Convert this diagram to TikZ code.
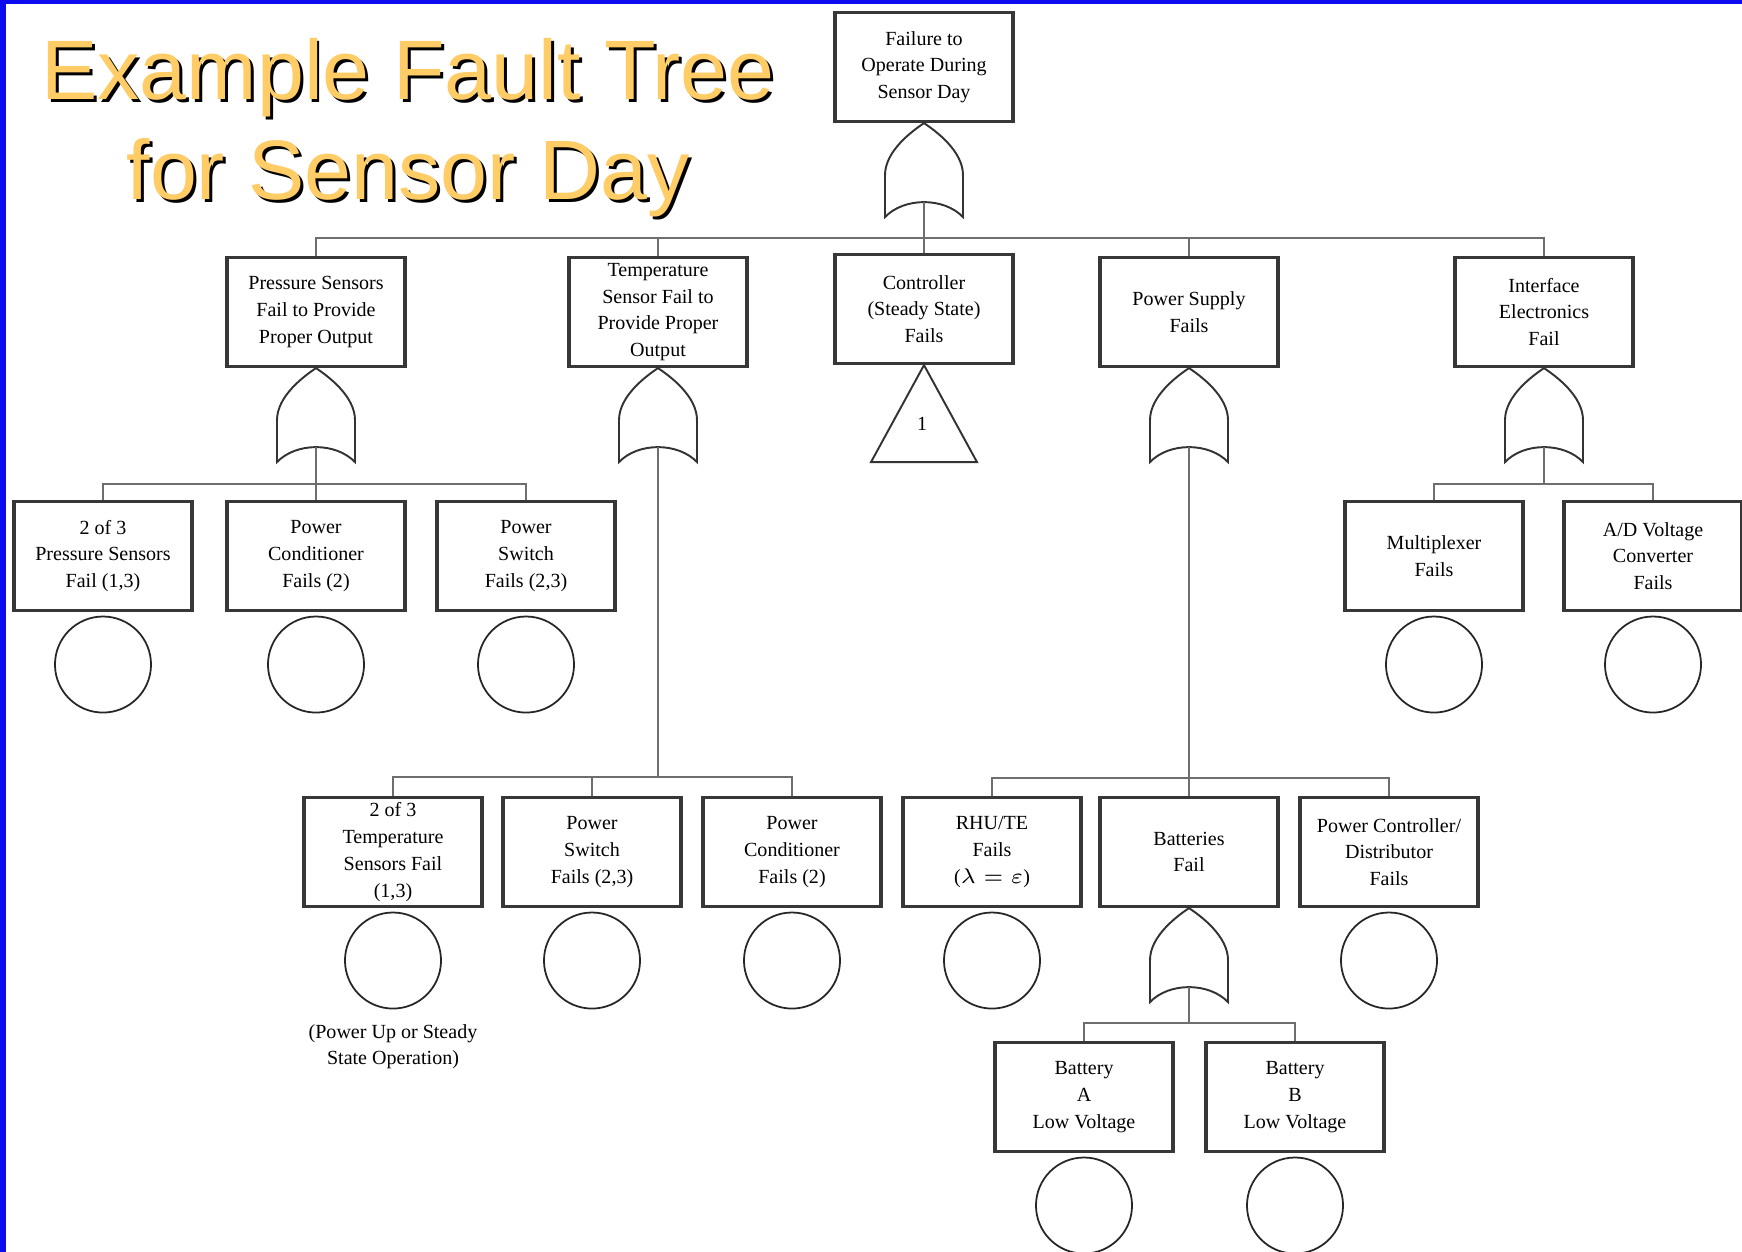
\documentclass[tikz,border=0pt]{standalone}
\usepackage{fontspec}
\setmainfont{Liberation Serif}
\newfontfamily\titlefont{Liberation Sans}
\usetikzlibrary{positioning,calc}

\definecolor{titleyellow}{RGB}{255,204,102}
\definecolor{frameblue}{RGB}{12,12,238}
\definecolor{inkgray}{RGB}{55,55,55}
\definecolor{busgray}{RGB}{110,110,110}

\tikzset{
  event/.style={draw=inkgray, line width=0.9pt, fill=white,
    minimum width=1.78cm, minimum height=1.09cm, align=center,
    inner sep=1pt, font=\fontsize{5.7}{7.6}\selectfont},
  basic/.style={draw=black!85, line width=0.5pt, circle,
    minimum size=0.96cm, inner sep=0pt},
  bus/.style={draw=busgray, line width=0.8pt},
  gateline/.style={draw=black!80, line width=0.55pt},
  titletext/.style={anchor=base, inner sep=0pt,
    font=\titlefont\fontsize{24}{28}\selectfont},
  note/.style={align=center, inner sep=1pt, font=\fontsize{5.7}{7.6}\selectfont},
  orgate/.pic={
    \draw[gateline] (0,0) .. controls (12,8) and (39,28) .. (39,52)
      -- (39,94) .. controls (20,74) and (-20,74) .. (-39,94)
      -- (-39,52) .. controls (-39,28) and (-12,8) .. cycle;
    \coordinate (-out) at (0,79);
  }
}

\begin{document}
\begin{tikzpicture}[x=0.01cm, y=-0.01cm]
  \useasboundingbox (0,0) rectangle (1742,1252);
  \fill[white] (0,0) rectangle (1742,1252);
  \fill[frameblue] (0,0) rectangle (6,1252);
  \fill[frameblue] (0,0) rectangle (1742,4);

  % title with drop shadow
  \node[titletext, text=black] at (411,103) {Example Fault Tree};
  \node[titletext, text=titleyellow] (title1) at (408,100) {Example Fault Tree};
  \node[titletext, text=black] at (411,203) {for Sensor Day};
  \node[titletext, text=titleyellow] (title2) at (408,200) {for Sensor Day};

  % top event
  \node[event] (top) at (924,67) {Failure to\\Operate During\\Sensor Day};
  \pic (g0) at (top.south) {orgate};

  % first level
  \node[event] (pA)  at (316,312)  {Pressure Sensors\\Fail to Provide\\Proper Output};
  \node[event] (pB)  at (658,312)  {Temperature\\Sensor Fail to\\Provide Proper\\Output};
  \node[event] (ctl) at (924,309)  {Controller\\(Steady State)\\Fails};
  \node[event] (psu) at (1189,312) {Power Supply\\Fails};
  \node[event] (ife) at (1544,312) {Interface\\Electronics\\Fail};

  \coordinate (b0) at (0,238);
  \foreach \c in {pA,pB,ctl,psu,ife}
    \draw[bus] (g0-out) -- (g0-out |- b0) -| (\c.north);

  \pic (gA) at (pA.south) {orgate};
  \pic (gB) at (pB.south) {orgate};
  \pic (gD) at (psu.south) {orgate};
  \pic (gE) at (ife.south) {orgate};

  % transfer triangle
  \draw[gateline] (ctl.south) -- ++(53,97) -- ++(-106,0) -- cycle;
  \node[note] (xfer) at (922,424) {1};

  % pressure sensor branch
  \node[event] (pA1) at (103,556) {2 of 3\\Pressure Sensors\\Fail (1,3)};
  \node[event] (pA2) at (316,556) {Power\\Conditioner\\Fails (2)};
  \node[event] (pA3) at (526,556) {Power\\Switch\\Fails (2,3)};
  \coordinate (bA) at (0,484);
  \foreach \c in {pA1,pA2,pA3}
    \draw[bus] (gA-out) -- (gA-out |- bA) -| (\c.north);

  % interface electronics branch
  \node[event] (ie1) at (1434,556) {Multiplexer\\Fails};
  \node[event] (ie2) at (1653,556) {A/D Voltage\\Converter\\Fails};
  \coordinate (bE) at (0,484);
  \foreach \c in {ie1,ie2}
    \draw[bus] (gE-out) -- (gE-out |- bE) -| (\c.north);

  % temperature sensor branch
  \node[event] (tB1) at (393,852) {2 of 3\\Temperature\\Sensors Fail\\(1,3)};
  \node[event] (tB2) at (592,852) {Power\\Switch\\Fails (2,3)};
  \node[event] (tB3) at (792,852) {Power\\Conditioner\\Fails (2)};
  \coordinate (bB) at (0,777);
  \foreach \c in {tB1,tB2,tB3}
    \draw[bus] (gB-out) -- (gB-out |- bB) -| (\c.north);

  % power supply branch
  \node[event] (ps1) at (992,852)  {RHU/TE\\Fails\\($\lambda = \varepsilon$)};
  \node[event] (ps2) at (1189,852) {Batteries\\Fail};
  \node[event] (ps3) at (1389,852) {Power Controller/\\Distributor\\Fails};
  \coordinate (bD) at (0,778);
  \foreach \c in {ps1,ps2,ps3}
    \draw[bus] (gD-out) -- (gD-out |- bD) -| (\c.north);

  \pic (gBat) at (ps2.south) {orgate};
  \node[event] (bat1) at (1084,1097) {Battery\\A\\Low Voltage};
  \node[event] (bat2) at (1295,1097) {Battery\\B\\Low Voltage};
  \coordinate (bBat) at (0,1023);
  \foreach \c in {bat1,bat2}
    \draw[bus] (gBat-out) -- (gBat-out |- bBat) -| (\c.north);

  % basic events
  \foreach \c in {pA1,pA2,pA3,ie1,ie2,tB1,tB2,tB3,ps1,ps3,bat1,bat2}
    \node[basic, below=1pt of \c] (\c-c) {};

  \node[note, below=3pt of tB1-c] (tB1-note) {(Power Up or Steady\\State Operation)};
\end{tikzpicture}
\end{document}
